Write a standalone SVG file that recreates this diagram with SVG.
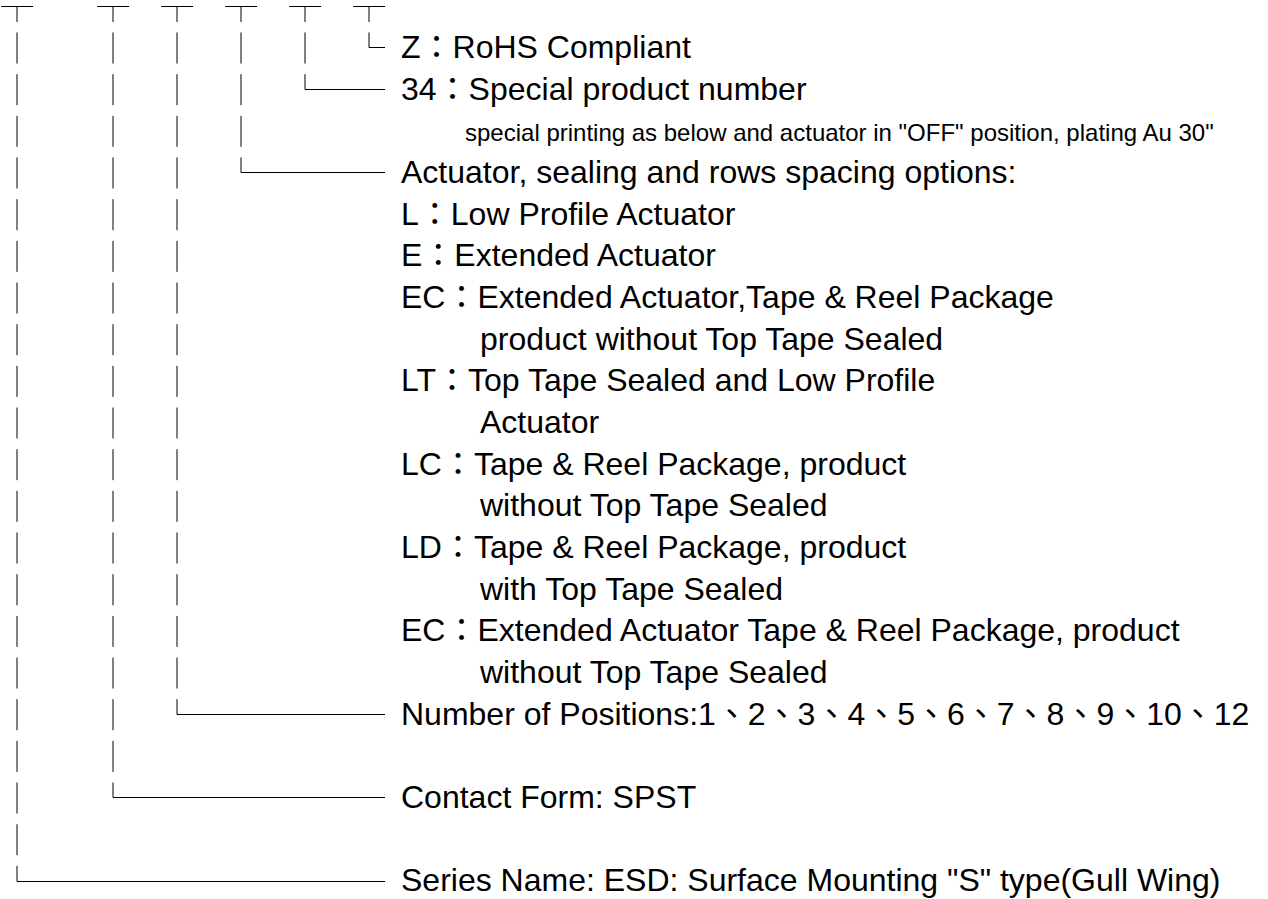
<svg xmlns="http://www.w3.org/2000/svg" width="1268" height="899" viewBox="0 0 1268 899">
<style>
  .t { font-family: "Liberation Sans", "Noto Sans CJK TC", sans-serif; font-size: 32px; fill: #000; }
  .s { font-family: "Liberation Sans", "Noto Sans CJK TC", sans-serif; font-size: 24px; fill: #000; }
  .ln { fill: none; stroke: #000; stroke-width: 1; }
  .dash { fill: none; stroke: #000; stroke-width: 1; stroke-dasharray: 31 10.67; }
</style>
<rect width="1268" height="899" fill="#fff"/>
<g id="connectors">
  <!-- top tee bars -->
  <path class="ln" d="M1 6.5H33 M97 6.5H129 M161 6.5H193 M225 6.5H257 M289 6.5H321 M353 6.5H385"/>
  <!-- tee stems -->
  <path class="ln" d="M17 6V22 M113 6V22 M177 6V22 M241 6V22 M305 6V22 M369 6V22"/>
  <!-- dashed vertical runs -->
  <path class="dash" d="M17 32.5V855.23"/>
  <path class="dash" d="M113 32.5V771.89"/>
  <path class="dash" d="M177 32.5V688.55"/>
  <path class="dash" d="M241 32.5V146.84"/>
  <path class="dash" d="M305 32.5V63.5"/>
  <!-- corners -->
  <path class="ln" d="M369 32.5V47.5H385"/>
  <path class="ln" d="M305 74.17V89.5H385"/>
  <path class="ln" d="M241 157.51V172.5H385"/>
  <path class="ln" d="M177 699.22V714.5H385"/>
  <path class="ln" d="M113 782.56V797.5H385"/>
  <path class="ln" d="M17 865.9V881.5H385"/>
</g>
<g id="node-rohs"><text class="t" x="401" y="58">Z：RoHS Compliant</text></g>
<g id="node-special">
  <text class="t" x="401" y="99.7">34：Special product number</text>
  <text class="s" x="465" y="141.3">special printing as below and actuator in "OFF" position, plating Au 30"</text>
</g>
<g id="node-actuator">
  <text class="t" x="401" y="183">Actuator, sealing and rows spacing options:</text>
  <text class="t" x="401" y="224.7">L：Low Profile Actuator</text>
  <text class="t" x="401" y="266.4">E：Extended Actuator</text>
  <text class="t" x="401" y="308">EC：Extended Actuator,Tape &amp; Reel Package</text>
  <text class="t" x="480" y="349.7">product without Top Tape Sealed</text>
  <text class="t" x="401" y="391.4">LT：Top Tape Sealed and Low Profile</text>
  <text class="t" x="480" y="433">Actuator</text>
  <text class="t" x="401" y="474.7">LC：Tape &amp; Reel Package, product</text>
  <text class="t" x="480" y="516.4">without Top Tape Sealed</text>
  <text class="t" x="401" y="558">LD：Tape &amp; Reel Package, product</text>
  <text class="t" x="480" y="599.7">with Top Tape Sealed</text>
  <text class="t" x="401" y="641.4">EC：Extended Actuator Tape &amp; Reel Package, product</text>
  <text class="t" x="480" y="683">without Top Tape Sealed</text>
</g>
<g id="node-positions"><text class="t" x="401" y="724.7">Number of Positions:1、2、3、4、5、6、7、8、9、10、12</text></g>
<g id="node-contact"><text class="t" x="401" y="808">Contact Form: SPST</text></g>
<g id="node-series"><text class="t" x="401" y="891.4">Series Name: ESD: Surface Mounting "S" type(Gull Wing)</text></g>
</svg>
